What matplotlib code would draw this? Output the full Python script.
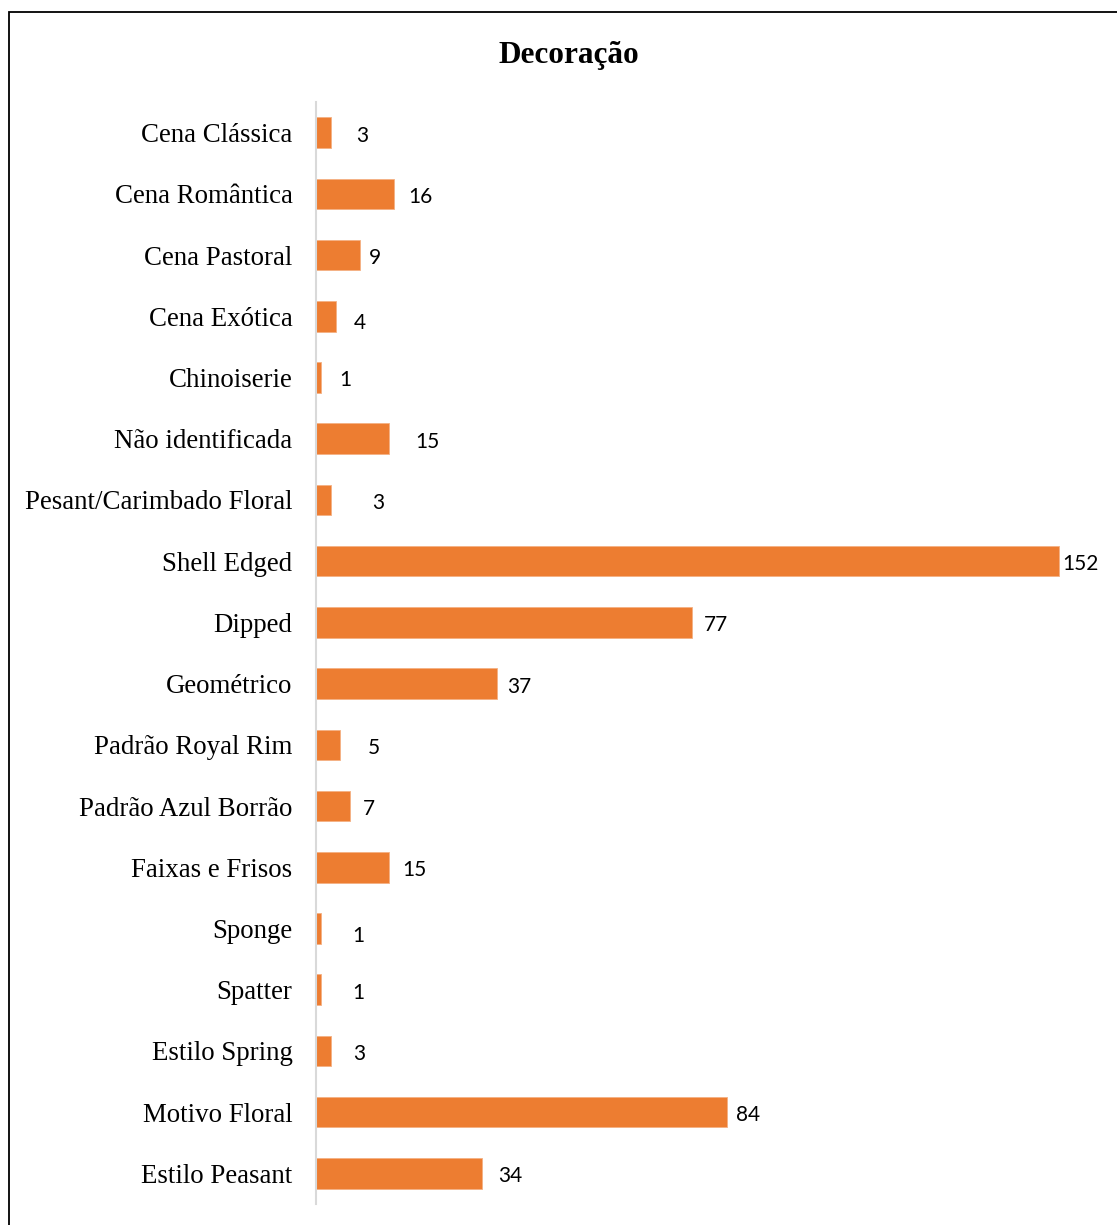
import matplotlib.pyplot as plt
from matplotlib.patches import Rectangle

categorias = ['Cena Clássica', 'Cena Romântica', 'Cena Pastoral', 'Cena Exótica',
              'Chinoiserie', 'Não identificada', 'Pesant/Carimbado Floral',
              'Shell Edged', 'Dipped', 'Geométrico', 'Padrão Royal Rim',
              'Padrão Azul Borrão', 'Faixas e Frisos', 'Sponge', 'Spatter',
              'Estilo Spring', 'Motivo Floral', 'Estilo Peasant']
valores = [3, 16, 9, 4, 1, 15, 3, 152, 77, 37, 5, 7, 15, 1, 1, 3, 84, 34]

# deslocamento dos rótulos (pixels), como foram arrastados no original
rot_dx = [32, 26, 15, 24, 24, 38, 48, 22, 24, 22, 33, 19, 25, 37, 37, 29, 22, 28]
rot_dy = [0, 0, 0, -4, 0, 0, 0, 0, 0, 0, 0, 0, 0, -4, 0, 0, 0, 0]

laranja = '#ED7D31'

fig = plt.figure(figsize=(11.17, 12.25), dpi=100)
ax = fig.add_axes([316 / 1117, 1 - 1204 / 1225, (1098 - 316) / 1117, (1204 - 102) / 1225])

pos = list(range(len(categorias)))
ax.barh(pos, valores, height=0.5, color=laranja, edgecolor='#F4B183', linewidth=0.6)
ax.set_ylim(len(categorias) - 0.5, -0.5)
ax.set_xlim(0, 160)
ax.set_yticks(pos)
ax.set_yticklabels(categorias, family='Liberation Serif', fontsize=19.4)
ax.tick_params(axis='y', length=0, pad=17)
ax.set_xticks([])
for s in ['top', 'right', 'bottom']:
    ax.spines[s].set_visible(False)
ax.spines['left'].set_color('#D9D9D9')
ax.spines['left'].set_linewidth(1.5)

for i, v in enumerate(valores):
    ax.annotate(str(v), (v, i), xytext=(rot_dx[i], rot_dy[i] - 3), textcoords='offset pixels',
                ha='center', va='center', family='Lato', fontsize=15, color='black')

fig.text(569 / 1117, 1 - 55 / 1225, 'Decoração', ha='center', va='center',
         family='Liberation Serif', fontsize=22.5, fontweight='bold')

fig.patches.append(Rectangle((9 / 1117, -0.05), 1.1, 1.05 - 12 / 1225,
                             transform=fig.transFigure, fill=False,
                             edgecolor='black', linewidth=1.3, clip_on=False))

fig.savefig('out.png', dpi=100)
